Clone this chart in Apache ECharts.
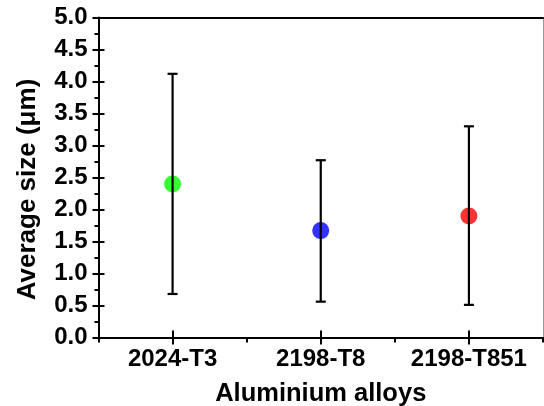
<!DOCTYPE html>
<html>
<head>
<meta charset="utf-8">
<script src="https://cdn.jsdelivr.net/npm/echarts@6/dist/echarts.min.js"></script>
<style>
html,body{margin:0;padding:0;background:#fff;}
#chart{width:544px;height:406px;}
</style>
</head>
<body>
<div id="chart"></div>
<script>
const categories = ['2024-T3', '2198-T8', '2198-T851'];
const means = [2.40, 1.67, 1.90];
const upper = [4.12, 2.77, 3.30];
const lower = [0.68, 0.56, 0.51];
const yTicks = [0, 0.5, 1, 1.5, 2, 2.5, 3, 3.5, 4, 4.5, 5];

const pointColors = ['#00ff00', '#0000ff', '#ff0000'];
const FONT = 'Liberation Sans, Arial, sans-serif';

const chart = echarts.init(document.getElementById('chart'), null, {renderer: 'canvas'});

const errData = categories.map((c, i) => [i, lower[i], upper[i]]);

const option = {
  animation: false,
  backgroundColor: '#ffffff',
  grid: {left: 98.5, top: 17.5, right: 1, bottom: 68.5, containLabel: false, outerBoundsMode: 'none'},
  xAxis: [
    {
      type: 'category', data: categories, position: 'bottom',
      name: 'Aluminium alloys', nameLocation: 'middle', nameGap: 43,
      nameTextStyle: {fontFamily: FONT, fontWeight: 'bold', fontSize: 25.5, color: '#000'},
      axisLine: {show: true, lineStyle: {color: '#000', width: 2}},
      axisTick: {show: true, alignWithLabel: true, inside: false, length: 7, lineStyle: {color: '#000', width: 2}},
      axisLabel: {interval: 0, hideOverlap: false, fontFamily: FONT, fontWeight: 'bold', fontSize: 24, color: '#000', margin: 10},
      splitLine: {show: false}
    },
    {
      type: 'category', data: categories, position: 'bottom',
      axisLine: {show: false},
      axisTick: {show: true, alignWithLabel: true, inside: true, length: 7, lineStyle: {color: '#000', width: 2}},
      axisLabel: {show: false}, splitLine: {show: false}
    },
    {
      type: 'category', data: categories, position: 'bottom',
      axisLine: {show: false},
      axisTick: {show: true, interval: 0, alignWithLabel: false, inside: false, length: 5, lineStyle: {color: '#000', width: 2}},
      axisLabel: {show: false}, splitLine: {show: false}
    },
    {
      type: 'category', data: categories, position: 'top',
      axisLine: {show: true, lineStyle: {color: '#000', width: 2}},
      axisTick: {show: false}, axisLabel: {show: false}, splitLine: {show: false}
    }
  ],
  yAxis: [
    {
      type: 'value', min: 0, max: 5, interval: 0.5, position: 'left',
      name: 'Average size (\u03bcm)', nameLocation: 'middle', nameGap: 58,
      nameTextStyle: {fontFamily: FONT, fontWeight: 'bold', fontSize: 26, color: '#000', padding: [0, 24, 0, 0]},
      axisLine: {show: true, lineStyle: {color: '#000', width: 2}},
      axisTick: {show: true, inside: false, length: 6, lineStyle: {color: '#000', width: 2}},
      minorTick: {show: true, splitNumber: 2, length: 4, lineStyle: {color: '#000', width: 2}},
      axisLabel: {fontFamily: FONT, fontWeight: 'bold', fontSize: 24, color: '#000', margin: 11,
        formatter: v => yTicks.includes(v) ? v.toFixed(1) : ''},
      splitLine: {show: false}
    },
    {
      type: 'value', min: 0, max: 5, interval: 0.5, position: 'left',
      axisLine: {show: false},
      axisTick: {show: true, inside: true, length: 6, lineStyle: {color: '#000', width: 2}},
      axisLabel: {show: false}, splitLine: {show: false}
    },
    {
      type: 'value', min: 0, max: 5, interval: 0.5, position: 'right',
      axisLine: {show: true, lineStyle: {color: '#999', width: 1}},
      axisTick: {show: false}, axisLabel: {show: false}, splitLine: {show: false}
    }
  ],
  series: [
    {
      type: 'scatter', xAxisIndex: 0, yAxisIndex: 0,
      symbol: 'circle', symbolSize: 17,
      data: means.map((v, i) => ({value: [i, v], itemStyle: {color: pointColors[i]}})),
      z: 2
    },
    {
      type: 'custom', xAxisIndex: 0, yAxisIndex: 0, z: 3,
      data: errData,
      renderItem: function (params, api) {
        const x = api.value(0);
        const lo = api.coord([x, api.value(1)]);
        const hi = api.coord([x, api.value(2)]);
        const hw = 5;
        const style = {stroke: '#000', lineWidth: 2.2};
        return {
          type: 'group',
          children: [
            {type: 'line', shape: {x1: lo[0], y1: lo[1], x2: hi[0], y2: hi[1]}, style},
            {type: 'line', shape: {x1: hi[0] - hw, y1: hi[1], x2: hi[0] + hw, y2: hi[1]}, style},
            {type: 'line', shape: {x1: lo[0] - hw, y1: lo[1], x2: lo[0] + hw, y2: lo[1]}, style}
          ]
        };
      }
    }
  ]
};
chart.setOption(option);
</script>
</body>
</html>
